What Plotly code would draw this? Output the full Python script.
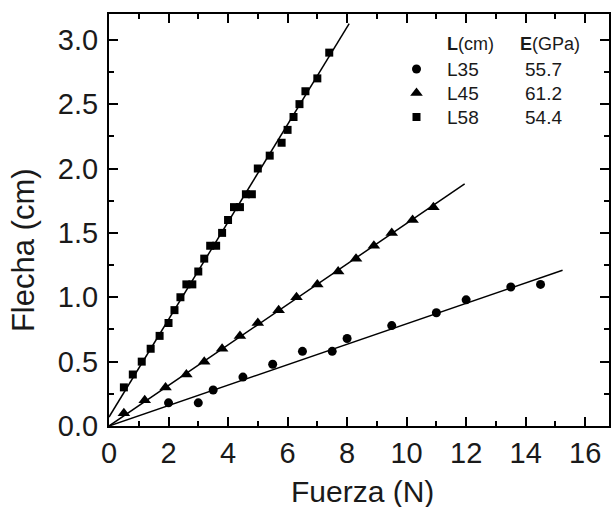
import plotly.graph_objects as go

# ---- data ----
l35_x = [2.0, 3.0, 3.5, 4.5, 5.5, 6.5, 7.5, 8.0, 9.5, 11.0, 12.0, 13.5, 14.5]
l35_y = [0.18, 0.18, 0.28, 0.38, 0.48, 0.58, 0.58, 0.68, 0.78, 0.88, 0.98, 1.08, 1.10]

l45_x = [0.5, 1.2, 1.9, 2.6, 3.2, 3.8, 4.4, 5.0, 5.7, 6.3, 7.0, 7.7, 8.3, 8.9, 9.5, 10.2, 10.9]
l45_y = [0.1, 0.2, 0.3, 0.4, 0.5, 0.6, 0.7, 0.8, 0.9, 1.0, 1.1, 1.2, 1.3, 1.4, 1.5, 1.6, 1.7]

l58_x = [0.5, 0.8, 1.1, 1.4, 1.7, 2.0, 2.2, 2.4, 2.6, 2.8, 3.0, 3.2, 3.4, 3.6, 3.8,
         4.0, 4.2, 4.4, 4.6, 4.8, 5.0, 5.4, 5.8, 6.0, 6.2, 6.4, 6.6, 7.0, 7.4]
l58_y = [0.3, 0.4, 0.5, 0.6, 0.7, 0.8, 0.9, 1.0, 1.1, 1.1, 1.2, 1.3, 1.4, 1.4, 1.5,
         1.6, 1.7, 1.7, 1.8, 1.8, 2.0, 2.1, 2.2, 2.3, 2.4, 2.5, 2.6, 2.7, 2.9]

# fitted lines (endpoints)
fit35_x = [0.0, 15.24]
fit35_y = [0.0, 1.21]
fit45_x = [0.0, 11.95]
fit45_y = [0.0, 1.88]
fit58_x = [0.0, 8.07]
fit58_y = [0.07, 3.125]

names = ["L35", "L45", "L58"]
e_values = ["55.7", "61.2", "54.4"]

x_ticks = [0, 2, 4, 6, 8, 10, 12, 14, 16]
y_ticks = [0.0, 0.5, 1.0, 1.5, 2.0, 2.5, 3.0]

FONT = "Liberation Sans, Arial, sans-serif"
INK = "#1a1a1a"

fig = go.Figure()

for fx, fy in [(fit35_x, fit35_y), (fit45_x, fit45_y), (fit58_x, fit58_y)]:
    fig.add_trace(go.Scatter(x=fx, y=fy, mode="lines", showlegend=False,
                             line=dict(color="black", width=1.5), hoverinfo="skip"))

fig.add_trace(go.Scatter(x=l35_x, y=l35_y, mode="markers", name=" ",
                         marker=dict(symbol="circle", size=9, color="black")))
fig.add_trace(go.Scatter(x=l45_x, y=l45_y, mode="markers", name=" ",
                         marker=dict(symbol="triangle-up", size=11, color="black")))
fig.add_trace(go.Scatter(x=l58_x, y=l58_y, mode="markers", name=" ",
                         marker=dict(symbol="square", size=8, color="black")))

axis_common = dict(
    showgrid=False, zeroline=False, showline=True, linecolor="black", linewidth=2,
    mirror="allticks", ticks="inside", ticklen=9, tickwidth=1.5, tickcolor="black",
    tickfont=dict(family=FONT, size=29, color=INK), automargin=False,
)

fig.update_xaxes(range=[0, 16.8], tickvals=x_ticks,
                 minor=dict(ticks="inside", ticklen=5, tickwidth=1.5, tickcolor="black", dtick=1, tick0=0),
                 **axis_common)
fig.update_yaxes(range=[0, 3.2], tickvals=y_ticks, tickformat=".1f", ticklabelstandoff=3,
                 minor=dict(ticks="inside", ticklen=5, tickwidth=1.5, tickcolor="black", dtick=0.25, tick0=0),
                 **axis_common)

# axis titles as annotations
fig.add_annotation(text="Flecha (cm)", textangle=-90, xref="paper", yref="paper",
                   x=-0.172, y=0.427, xanchor="center", yanchor="middle", showarrow=False,
                   font=dict(family=FONT, size=31, color=INK))
fig.add_annotation(text="Fuerza (N)", xref="paper", yref="paper",
                   x=0.506, y=-0.158, xanchor="center", yanchor="middle", showarrow=False,
                   font=dict(family=FONT, size=30, color=INK))

# legend header, names and E values
fig.add_annotation(text="<b>L</b>(cm)", xref="paper", yref="paper", x=0.672, y=0.928,
                   xanchor="left", yanchor="middle", showarrow=False,
                   font=dict(family=FONT, size=18, color=INK))
fig.add_annotation(text="<b>E</b>(GPa)", xref="paper", yref="paper", x=0.818, y=0.928,
                   xanchor="left", yanchor="middle", showarrow=False,
                   font=dict(family=FONT, size=18, color=INK))
for i, (n, v) in enumerate(zip(names, e_values)):
    yy = 0.866 - i * 0.0583
    fig.add_annotation(text=n, xref="paper", yref="paper", x=0.672, y=yy,
                       xanchor="left", yanchor="middle", showarrow=False,
                       font=dict(family=FONT, size=19, color=INK))
    fig.add_annotation(text=v, xref="paper", yref="paper", x=0.828, y=yy,
                       xanchor="left", yanchor="middle", showarrow=False,
                       font=dict(family=FONT, size=19, color=INK))

fig.update_layout(
    width=611, height=507,
    margin=dict(l=109, r=2, t=14, b=81),
    paper_bgcolor="white", plot_bgcolor="white",
    legend=dict(x=0.575, y=0.9078, xanchor="left", yanchor="top",
                font=dict(family=FONT, size=16.15, color=INK),
                bgcolor="rgba(0,0,0,0)", tracegroupgap=0, itemsizing="trace"),
)

fig.write_html("out.html", config={"displayModeBar": False},
               post_script="document.body.style.margin='0px';document.body.style.overflow='hidden';")
